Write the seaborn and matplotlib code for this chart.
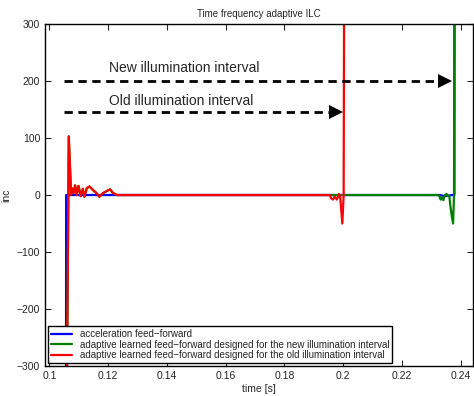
import matplotlib
matplotlib.use("Agg")
import matplotlib.pyplot as plt
import seaborn as sns
import pandas as pd

# ---- data ----
t_accel = [0.10555, 0.10569, 0.1500, 0.2000, 0.2330, 0.2345, 0.2360, 0.2370, 0.23785, 0.23800]
u_accel = [-1000, 0, 0, 0, 0, -2, -1, 0, 0, 1000]

t_new = [0.10550, 0.10600, 0.10658, 0.10738, 0.10772, 0.10829, 0.10874, 0.10931,
         0.10988, 0.11067, 0.11135, 0.11192, 0.11272, 0.11363, 0.11476, 0.11590,
         0.11703, 0.11817, 0.11987, 0.12067, 0.12157, 0.12294, 0.2000, 0.2325,
         0.2328, 0.2332, 0.2336, 0.2341, 0.2346, 0.2352, 0.2356, 0.2361, 0.2365,
         0.2369, 0.2374, 0.23772, 0.23807]
u_new = [-1000, -300, 103, 0, 12, 4, 17, 0, 16, -2, 11, -3, 12, 15, 9, 4,
         -3, 3, 8, 10, 4, 0, 0, 0, -3, -8, -4, -9, 0, 2, -2, -1, -20, -35,
         -50, 0, 1000]

t_old = [0.10550, 0.10600, 0.10658, 0.10738, 0.10772, 0.10829, 0.10874, 0.10931,
         0.10988, 0.11067, 0.11135, 0.11192, 0.11272, 0.11363, 0.11476, 0.11590,
         0.11703, 0.11817, 0.11987, 0.12067, 0.12157, 0.12294, 0.19538, 0.19595,
         0.19652, 0.19708, 0.19787, 0.19855, 0.19900, 0.19970, 0.20015, 0.20060]
u_old = [-1000, -300, 103, 0, 12, 4, 17, 0, 16, -2, 11, -3, 12, 15, 9, 4,
         -3, 3, 8, 10, 4, 0, 0, -6, -8, -3, -8, 2, -5, -50, 0, 1000]

series_labels = [
    "acceleration feed\u2212forward",
    "adaptive learned feed\u2212forward designed for the new illumination interval",
    "adaptive learned feed\u2212forward designed for the old illumination interval",
]
series_colors = ["#0000ff", "#008000", "#ff0000"]

# arrows: (text, text x, text y, arrow start x, arrow tip x, arrow y)
arrow_new = ("New illumination interval", 0.1204, 223, 0.1051, 0.2370, 200)
arrow_old = ("Old illumination interval", 0.1204, 165, 0.1051, 0.2001, 145)

x_ticks = [0.1, 0.12, 0.14, 0.16, 0.18, 0.2, 0.22, 0.24]
x_ticklabels = ["0.1", "0.12", "0.14", "0.16", "0.18", "0.2", "0.22", "0.24"]
y_ticks = [-300, -200, -100, 0, 100, 200, 300]

sns.set_style("ticks")
plt.rcParams["font.family"] = ["Liberation Sans", "DejaVu Sans"]
plt.rcParams["axes.unicode_minus"] = True

fig = plt.figure(figsize=(4.74, 3.96), dpi=100)
ax = fig.add_axes([0.095, 0.076, 0.903, 0.863])

frames = [
    pd.DataFrame({"t": t_accel, "u": u_accel}),
    pd.DataFrame({"t": t_new, "u": u_new}),
    pd.DataFrame({"t": t_old, "u": u_old}),
]
for df, lab, col in zip(frames, series_labels, series_colors):
    sns.lineplot(data=df, x="t", y="u", ax=ax, color=col, label=lab,
                 lw=1.6, sort=False, estimator=None)

# dashed arrows with filled heads
for text, tx, ty, x0, x1, y in (arrow_new, arrow_old):
    head = 0.0050
    ax.plot([x0, x1 - head], [y, y], ls=(0, (3, 2)), color="k", lw=2)
    ax.plot([x1 - head / 2], [y], marker=">", ms=10, color="k", mew=0)
    ax.text(tx, ty, text, fontsize=10, ha="left", va="center")

ax.set_xlim(0.0985, 0.2442)
ax.set_ylim(-300, 300)
ax.set_xticks(x_ticks)
ax.set_xticklabels(x_ticklabels)
ax.set_yticks(y_ticks)
ax.tick_params(direction="in", top=True, right=True, labelsize=7.5, length=4, width=0.8)
for s in ax.spines.values():
    s.set_linewidth(1.0)
    s.set_color("k")

ax.set_title("Time frequency adaptive ILC", fontsize=7, pad=5)
ax.set_xlabel("time [s]", fontsize=7.5, labelpad=2)
ax.set_ylabel("inc", fontsize=7.5, labelpad=4)

leg = ax.legend(loc="lower left", fontsize=7, frameon=True, fancybox=False,
                edgecolor="k", borderaxespad=0.3, handlelength=2.2,
                labelspacing=0.05, borderpad=0.3)
leg.get_frame().set_linewidth(1.0)
leg.get_frame().set_alpha(1)

fig.savefig("out.png", dpi=100)
